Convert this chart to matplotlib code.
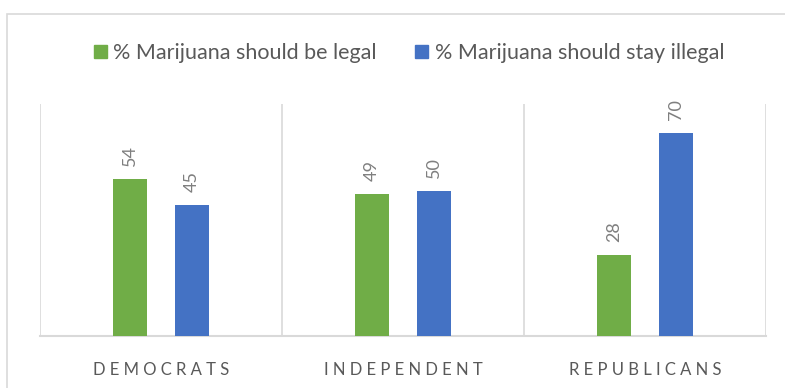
import matplotlib
matplotlib.use("Agg")
import matplotlib.pyplot as plt
from matplotlib.patches import Rectangle, Patch
import numpy as np

categories = ["DEMOCRATS", "INDEPENDENT", "REPUBLICANS"]
legal = [54, 49, 28]
illegal = [45, 50, 70]
series_names = ["% Marijuana should be legal", "% Marijuana should stay illegal"]
colors = ["#70AD47", "#4472C4"]

plt.rcParams['font.family'] = ['Lato', 'DejaVu Sans']

W, H = 785, 388
fig = plt.figure(figsize=(W/100, H/100), dpi=100)
fig.patch.set_facecolor("white")

# outer chart border
fig.patches.append(Rectangle((7/W, -0.02), 1.05, 1 - 14/H + 0.02, transform=fig.transFigure,
                             fill=False, edgecolor="#D9D9D9", linewidth=1.2))

ax = fig.add_axes([40/W, (H-336)/H, (766-40)/W, (336-104)/H])
x = np.arange(len(categories))
off = 31/242
bw = 34/242
ax.bar(x - off, legal, bw, color=colors[0], zorder=3)
ax.bar(x + off, illegal, bw, color=colors[1], zorder=3)
ax.set_xlim(-0.5, len(categories) - 0.5)
ax.set_ylim(0, 80)

for i in range(len(categories)):
    ax.text(x[i] - off, legal[i] + 4.5, str(legal[i]), rotation=90, ha="center", va="bottom",
            color="#7F7F7F", fontsize=13)
    ax.text(x[i] + off, illegal[i] + 4.5, str(illegal[i]), rotation=90, ha="center", va="bottom",
            color="#7F7F7F", fontsize=13)

for b in np.arange(-0.5, len(categories), 1.0):
    ax.axvline(b, color="#D9D9D9", linewidth=1.2, zorder=1)

for s in ["top", "left", "right"]:
    ax.spines[s].set_visible(False)
ax.spines["bottom"].set_color("#D9D9D9")
ax.spines["bottom"].set_linewidth(1.5)
ax.set_yticks([])
ax.set_xticks(x)
ax.set_xticklabels([" ".join(c) for c in categories], color="#595959", fontsize=12)
ax.tick_params(axis="x", length=0, pad=19)

handles = [Patch(facecolor=c, edgecolor=c) for c in colors]
fig.legend(handles, series_names, loc="center", bbox_to_anchor=(409/W, 1 - 53/H), ncol=2,
           frameon=False, fontsize=15.5, labelcolor="#595959", handlelength=0.6, handleheight=0.6,
           handletextpad=0.3, columnspacing=1.8)

fig.savefig("out.png", dpi=100)
